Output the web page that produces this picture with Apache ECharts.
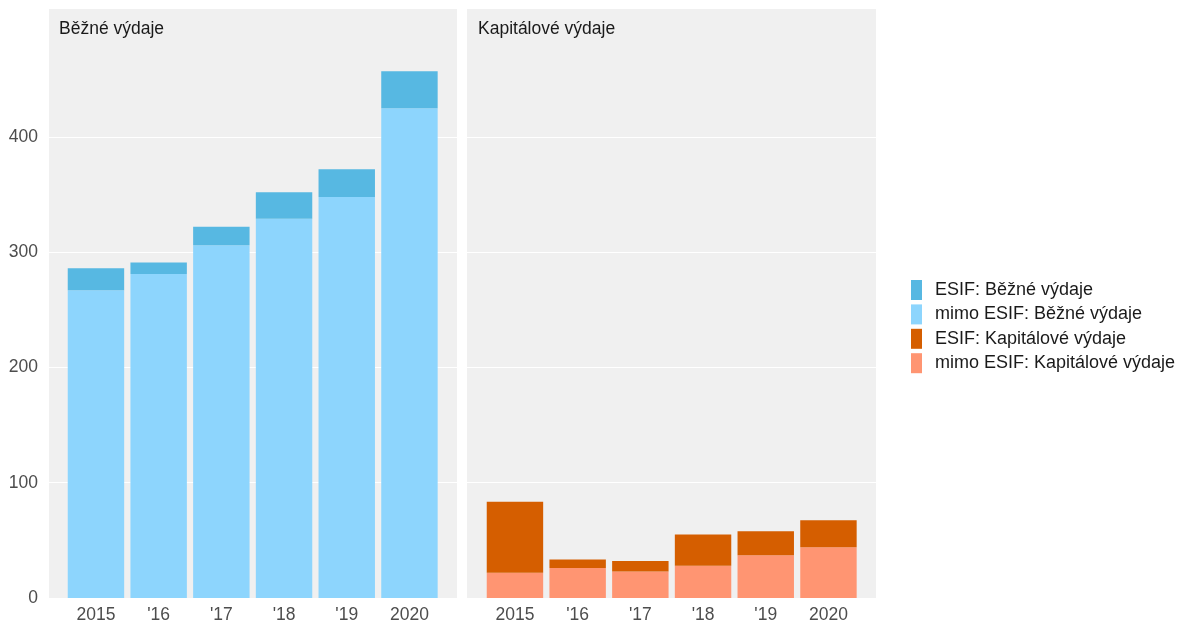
<!DOCTYPE html>
<html>
<head>
<meta charset="utf-8">
<script src="https://cdn.jsdelivr.net/npm/echarts@6/dist/echarts.min.js"></script>
<style>
  html, body { margin: 0; padding: 0; background: #fff; }
  #chart { width: 1180px; height: 634px; }
</style>
</head>
<body>
<div id="chart"></div>
<script>
// roky
const years = ['2015', "'16", "'17", "'18", "'19", '2020'];

// Běžné výdaje
const mimoBezne = [267, 281, 306, 329, 348, 425];
const esifBezne = [19, 10, 16, 23, 24, 32];

// Kapitálové výdaje
const mimoKapital = [22, 26, 23, 28, 37, 44];
const esifKapital = [61.5, 7.5, 9, 27, 21, 23.5];

const yTicks = [0, 100, 200, 300, 400];
const yMax = 511;

const FONT = 'Liberation Sans, Arial, sans-serif';
const FS = 17.5;
const panelBg = '#f0f0f0';

let myChart = echarts.init(document.getElementById('chart'), null, { renderer: 'canvas' });

function bgYAxis(idx, showLabels) {
  return {
    type: 'value', gridIndex: idx, min: 0, max: yMax, interval: 100,
    axisLine: { show: false }, axisTick: { show: false },
    axisLabel: {
      show: showLabels, color: '#4d4d4d', fontSize: FS, fontFamily: FONT, margin: 11,
      formatter: function (v) { return yTicks.indexOf(v) >= 0 ? String(v) : ''; }
    },
    splitLine: {
      show: true, showMaxLine: false,
      lineStyle: { color: ['#ffffff', '#ffffff', '#ffffff', '#ffffff', '#ffffff', panelBg], width: 1.2 }
    }
  };
}

function barYAxis(idx) {
  return {
    type: 'value', gridIndex: idx, min: 0, max: yMax, show: false,
    splitLine: { show: false }
  };
}

function barXAxis(idx) {
  return {
    type: 'category', gridIndex: idx, data: years,
    axisLine: { show: false }, axisTick: { show: false },
    axisLabel: { color: '#4d4d4d', fontSize: FS, fontFamily: FONT, margin: 8 },
    splitLine: { show: false }
  };
}

function bgXAxis(idx) {
  return { type: 'category', gridIndex: idx, data: years, show: false };
}

myChart.setOption({
  backgroundColor: '#ffffff',
  animation: false,
  textStyle: { fontFamily: FONT },
  title: [
    { text: 'Běžné výdaje', left: 59, top: 20, padding: 0,
      textStyle: { color: '#1a1a1a', fontSize: FS, fontWeight: 'normal', fontFamily: FONT } },
    { text: 'Kapitálové výdaje', left: 478, top: 20, padding: 0,
      textStyle: { color: '#1a1a1a', fontSize: FS, fontWeight: 'normal', fontFamily: FONT } }
  ],
  legend: {
    orient: 'vertical', left: 911, top: 280, padding: 0,
    itemWidth: 11, itemHeight: 20, itemGap: 4.4,
    icon: 'rect',
    textStyle: { color: '#1a1a1a', fontSize: 18, fontFamily: FONT, padding: [0, 0, 0, 8] },
    data: ['ESIF: Běžné výdaje', 'mimo ESIF: Běžné výdaje', 'ESIF: Kapitálové výdaje', 'mimo ESIF: Kapitálové výdaje']
  },
  grid: [
    { left: 49, width: 408, top: 9, bottom: 36, show: true, backgroundColor: panelBg, borderWidth: 0 },
    { left: 64.6, width: 376.2, top: 9, bottom: 36 },
    { left: 467, width: 409, top: 9, bottom: 36, show: true, backgroundColor: panelBg, borderWidth: 0 },
    { left: 483.6, width: 376.2, top: 9, bottom: 36 }
  ],
  xAxis: [bgXAxis(0), barXAxis(1), bgXAxis(2), barXAxis(3)],
  yAxis: [bgYAxis(0, true), barYAxis(1), bgYAxis(2, false), barYAxis(3)],
  series: [
    { name: 'mimo ESIF: Běžné výdaje', type: 'bar', stack: 'b', xAxisIndex: 1, yAxisIndex: 1,
      barWidth: '90%', data: mimoBezne, itemStyle: { color: '#8dd5fd' } },
    { name: 'ESIF: Běžné výdaje', type: 'bar', stack: 'b', xAxisIndex: 1, yAxisIndex: 1,
      barWidth: '90%', data: esifBezne, itemStyle: { color: '#57b8e2' } },
    { name: 'mimo ESIF: Kapitálové výdaje', type: 'bar', stack: 'k', xAxisIndex: 3, yAxisIndex: 3,
      barWidth: '90%', data: mimoKapital, itemStyle: { color: '#ff9572' } },
    { name: 'ESIF: Kapitálové výdaje', type: 'bar', stack: 'k', xAxisIndex: 3, yAxisIndex: 3,
      barWidth: '90%', data: esifKapital, itemStyle: { color: '#d55e00' } }
  ]
});
</script>
</body>
</html>
